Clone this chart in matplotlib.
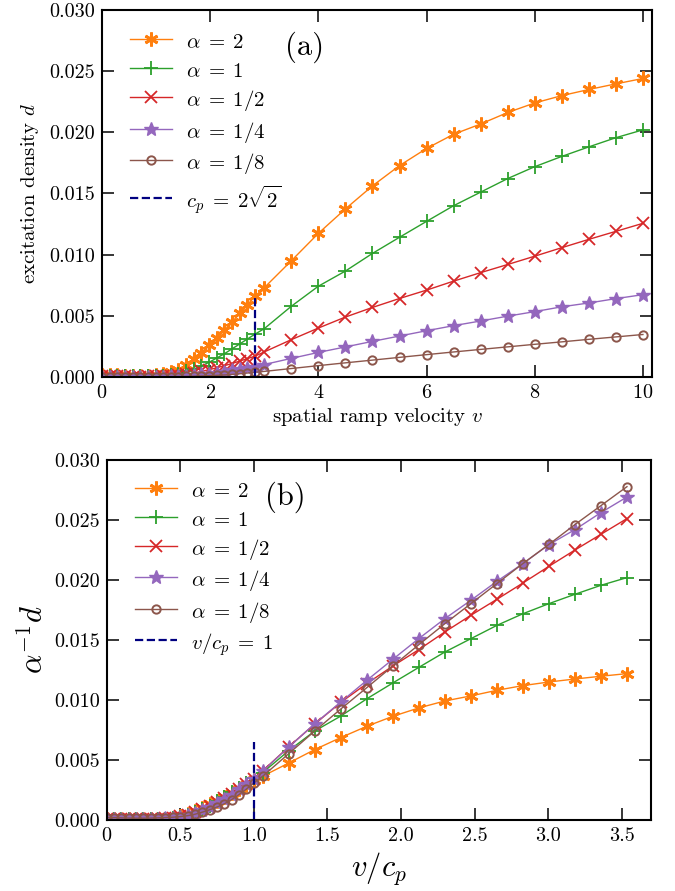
import numpy as np
import matplotlib
matplotlib.use("Agg")
import matplotlib.pyplot as plt

plt.rcParams['font.family'] = 'cmr10'
plt.rcParams['mathtext.fontset'] = 'cm'
plt.rcParams['axes.formatter.use_mathtext'] = True
plt.rcParams['axes.unicode_minus'] = False

c_p = 2 * np.sqrt(2)

# ramp velocities (dense up to c_p, then coarse)
v_values = [0.000, 0.141, 0.283, 0.424, 0.566, 0.707, 0.849, 0.990, 1.131, 1.273,
            1.414, 1.556, 1.697, 1.838, 1.980, 2.121, 2.263, 2.404, 2.546, 2.687,
            2.828,
            3.0, 3.5, 4.0, 4.5, 5.0, 5.5, 6.0, 6.5, 7.0, 7.5, 8.0, 8.5, 9.0, 9.5, 10.0]

alphas = [2, 1, 1/2, 1/4, 1/8]
labels = [r'$\alpha\;=\;2$', r'$\alpha\;=\;1$', r'$\alpha\;=\;1/2$', r'$\alpha\;=\;1/4$', r'$\alpha\;=\;1/8$']

# scaled excitation density  alpha^{-1} d
g_alpha_2 = [0.00010, 0.00009, 0.00008, 0.00006, 0.00005, 0.00005, 0.00006, 0.00008, 0.00012, 0.00020,
             0.00030, 0.00050, 0.00075, 0.00100, 0.00130, 0.00160, 0.00190, 0.00225, 0.00260, 0.00295,
             0.00330,
             0.00365, 0.00475, 0.00587, 0.00687, 0.00781, 0.00864, 0.00934, 0.00992, 0.01034, 0.01081,
             0.01120, 0.01150, 0.01175, 0.01198, 0.01220]
g_alpha_1 = [0.00010, 0.00009, 0.00008, 0.00007, 0.00006, 0.00006, 0.00007, 0.00009, 0.00012, 0.00018,
             0.00028, 0.00045, 0.00065, 0.00090, 0.00120, 0.00155, 0.00190, 0.00230, 0.00270, 0.00310,
             0.00350,
             0.00395, 0.00578, 0.00742, 0.00866, 0.01010, 0.01142, 0.01272, 0.01400, 0.01511, 0.01622,
             0.01719, 0.01803, 0.01881, 0.01956, 0.02020]
g_alpha_half = [0.00012, 0.00011, 0.00010, 0.00008, 0.00007, 0.00007, 0.00008, 0.00010, 0.00014, 0.00020,
                0.00030, 0.00045, 0.00065, 0.00090, 0.00120, 0.00150, 0.00185, 0.00220, 0.00260, 0.00300,
                0.00340,
                0.00410, 0.00610, 0.00800, 0.00980, 0.01137, 0.01283, 0.01420, 0.01567, 0.01706, 0.01839,
                0.01975, 0.02114, 0.02250, 0.02381, 0.02512]
g_alpha_quarter = [0.00010, 0.00010, 0.00009, 0.00008, 0.00007, 0.00007, 0.00008, 0.00010, 0.00013, 0.00018,
                   0.00026, 0.00040, 0.00060, 0.00085, 0.00112, 0.00142, 0.00175, 0.00212, 0.00255, 0.00300,
                   0.00340,
                   0.00408, 0.00608, 0.00803, 0.00983, 0.01164, 0.01339, 0.01512, 0.01678, 0.01831, 0.01989,
                   0.02137, 0.02295, 0.02420, 0.02562, 0.02692]
g_alpha_eighth = [0.00020, 0.00020, 0.00018, 0.00016, 0.00015, 0.00015, 0.00016, 0.00018, 0.00020, 0.00023,
                  0.00028, 0.00036, 0.00048, 0.00065, 0.00085, 0.00108, 0.00135, 0.00170, 0.00212, 0.00258,
                  0.00308,
                  0.00365, 0.00553, 0.00742, 0.00925, 0.01103, 0.01283, 0.01461, 0.01636, 0.01803, 0.01970,
                  0.02137, 0.02297, 0.02462, 0.02620, 0.02778]

scaled = [g_alpha_2, g_alpha_1, g_alpha_half, g_alpha_quarter, g_alpha_eighth]
colors = ['#ff7f0e', '#2ca02c', '#d62728', '#9467bd', '#8c564b']
markers = [(6, 2, 0), '+', 'x', '*', 'o']
msizes = [10, 10, 8, 10, 6]
mews = [2.0, 1.3, 1.3, 1.0, 1.4]

v = np.array(v_values)

fig = plt.figure(figsize=(6.75, 8.91), dpi=100)
ax1 = fig.add_axes([0.1511, 0.5769, 0.815, 0.4119])
ax2 = fig.add_axes([0.1580, 0.0797, 0.8067, 0.4040])

for a, g, c, m, ms, mew, lab in zip(alphas, scaled, colors, markers, msizes, mews, labels):
    g = np.array(g)
    mfc = 'none' if m == 'o' else c
    ax1.plot(v, a * g, color=c, marker=m, ms=ms, mew=mew, mfc=mfc, lw=1.0, label=lab)
    ax2.plot(v / c_p, g, color=c, marker=m, ms=ms, mew=mew, mfc=mfc, lw=1.0, label=lab)

ax1.plot([c_p, c_p], [0, 0.0066], color='#000080', ls='--', lw=1.6, label=r'$c_p\;=\;2\sqrt{2}$')
ax2.plot([1, 1], [0, 0.0065], color='#000080', ls='--', lw=1.6, label=r'$v/c_p\;=\;1$')

ax1.set_xlim(0, 10.17)
ax1.set_ylim(0, 0.030)
ax1.set_xticks([0, 2, 4, 6, 8, 10])
ax1.set_yticks([0, 0.005, 0.010, 0.015, 0.020, 0.025, 0.030])
ax1.set_yticklabels(['0.000', '0.005', '0.010', '0.015', '0.020', '0.025', '0.030'])
ax1.set_xlabel(r'spatial ramp velocity $v$', fontsize=15, labelpad=3)
ax1.set_ylabel(r'excitation density $d$', fontsize=15, labelpad=6)
ax1.text(0.369, 0.899, '(a)', transform=ax1.transAxes, fontsize=22, ha='center', va='center')

ax2.set_xlim(0, 3.70)
ax2.set_ylim(0, 0.030)
ax2.set_xticks([0, 0.5, 1.0, 1.5, 2.0, 2.5, 3.0, 3.5])
ax2.set_xticklabels(['0', '0.5', '1.0', '1.5', '2.0', '2.5', '3.0', '3.5'])
ax2.set_yticks([0, 0.005, 0.010, 0.015, 0.020, 0.025, 0.030])
ax2.set_yticklabels(['0.000', '0.005', '0.010', '0.015', '0.020', '0.025', '0.030'])
ax2.set_xlabel(r'$v/c_p$', fontsize=22, labelpad=4)
ax2.set_ylabel(r'$\alpha^{-1}d$', fontsize=22, labelpad=4)
ax2.text(0.3276, 0.897, '(b)', transform=ax2.transAxes, fontsize=22, ha='center', va='center')

for ax, anchor in ((ax1, (0.051, 0.9456)), (ax2, (0.052, 0.9486))):
    ax.tick_params(direction='in', top=True, right=True, length=8.5, width=1.1, labelsize=14.5, pad=5)
    for s in ax.spines.values():
        s.set_linewidth(1.5)
    ax.legend(loc='upper left', bbox_to_anchor=anchor, frameon=False, fontsize=15,
              handlelength=2.0, handleheight=1.3, labelspacing=0.30,
              borderaxespad=0.0, borderpad=0.0, handletextpad=0.7)

fig.savefig('out.png', dpi=100)
